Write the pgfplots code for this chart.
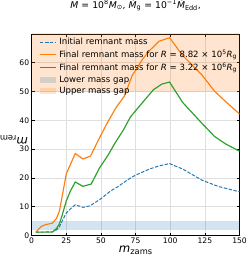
\documentclass[border=0pt]{standalone}
\usepackage{pgfplots}
\pgfplotsset{compat=1.18}
\usepackage{fontspec}
\setmainfont{DejaVu Sans}
\usetikzlibrary{calc}
\definecolor{cA}{HTML}{1F77B4}
\definecolor{cB}{HTML}{FF7F0E}
\definecolor{cC}{HTML}{2CA02C}
\begin{document}
\begin{tikzpicture}
\begin{axis}[
  scale only axis, width=213pt, height=206.5pt,
  xmin=0, xmax=150, ymin=0, ymax=70,
  xtick={0,25,50,75,100,125,150},
  ytick={0,10,20,30,40,50,60},
  tick align=inside, tick pos=both,
  major tick length=3pt,
  tick style={black, line width=0.6pt},
  axis line style={black, line width=0.7pt},
  grid=major, major grid style={gray!25, line width=0.6pt},
  /pgf/number format/assume math mode=true,
  tick label style={font=\fontsize{7.8}{9}\selectfont},
  xticklabel style={yshift=1pt},
  yticklabel style={xshift=1pt},
  title={\fontsize{9.5}{10}\selectfont \textit{M}\,\,=\,\,10\textsuperscript{8}\textit{M}\textsubscript{⊙}, \textit{Ṁ}\textsubscript{g}\,\,=\,\,10\textsuperscript{−1}\textit{Ṁ}\textsubscript{Edd},},
  title style={at={(axis description cs:0.5,1.097)}, anchor=base, inner sep=0pt},
  xlabel={\fontsize{12}{12}\selectfont\textit{m}\raisebox{-0.35ex}{\fontsize{8.5}{9}\selectfont zams}},
  xlabel style={at={(axis description cs:0.5,-0.082)}, anchor=base, inner sep=0pt},
  ylabel={\fontsize{12}{12}\selectfont\textit{m}\raisebox{-0.35ex}{\fontsize{8.5}{9}\selectfont rem}},
  ylabel style={at={(axis description cs:-0.085,0.5)}, rotate=90, anchor=south, inner sep=0pt},
  legend style={at={(rel axis cs:0.03,0.99)}, anchor=north west, draw=none, fill=none,
    font=\fontsize{8.8}{9}\selectfont, row sep=1.6pt, inner sep=1pt,
    nodes={inner sep=1pt, inner xsep=2.5pt}},
  legend cell align=left,
]
% bands
\addplot[draw=none, fill=cB, fill opacity=0.2, forget plot] coordinates {(0,50) (150,50) (150,130) (0,130)} -- cycle;
\addplot[draw=none, fill=cA, fill opacity=0.2, forget plot] coordinates {(0,2) (150,2) (150,5) (0,5)} -- cycle;
% initial remnant mass
\addplot[cA, line width=1pt, dash pattern=on 3.5pt off 1.6pt] coordinates {
(3,1.2) (15,1.3) (18,2) (20,3) (22,5) (25,7.8) (28,9.3) (31.5,10.7) (37,9.8) (42,10.3) (50,12.8) (57,15.5) (62,16.9) (70,19.6) (75,21) (85,23.1) (92,24.2) (99.5,25) (109,23.1) (123,19.2) (135,17) (150,15.2)};
\addlegendentry{Initial remnant mass}
\addplot[cB, line width=1.2pt] coordinates {
(3,1.1) (5,2.2) (7,3.2) (10,3.8) (15,4.3) (18,6) (20,8.4) (22,13.5) (25,21.4) (31.5,28.5) (37,26.6) (42.5,27.6) (48,33) (55,39.5) (61,44.5) (67,48.5) (72.5,55.5) (80,61.2) (85,64.2) (92,67.5) (99.5,68.7) (109,62.5) (123,55.7) (132,50.1) (140,46.5) (150,42.2)};
\addlegendentry{Final remnant mass for \textit{R} = 8.82 × 10\textsuperscript{5}\textit{R}\textsubscript{g}}
\addplot[cC, line width=1.2pt] coordinates {
(3,1.2) (15,1.2) (18,2.5) (20,4) (22,7) (25,12) (28,15.5) (31.5,18.6) (37,17.1) (43,17.9) (49,23.5) (55,27.8) (60,32) (66,36.5) (71.3,41.2) (76,43.9) (83,47.9) (88,50.7) (94,52.6) (99.5,53.3) (109,46.2) (123,38.9) (132,34.4) (140,31.8) (150,29.3)};
\addlegendentry{Final remnant mass for \textit{R} = 3.22 × 10\textsuperscript{6}\textit{R}\textsubscript{g}}
\addlegendimage{area legend, fill=cA, fill opacity=0.2, draw opacity=0}
\addlegendentry{Lower mass gap}
\addlegendimage{area legend, fill=cB, fill opacity=0.2, draw opacity=0}
\addlegendentry{Upper mass gap}
\end{axis}
\path ($(current axis.south west)+(-32pt,-25pt)$) rectangle ($(current axis.north east)+(8pt,28.5pt)$);
\end{tikzpicture}
\end{document}
